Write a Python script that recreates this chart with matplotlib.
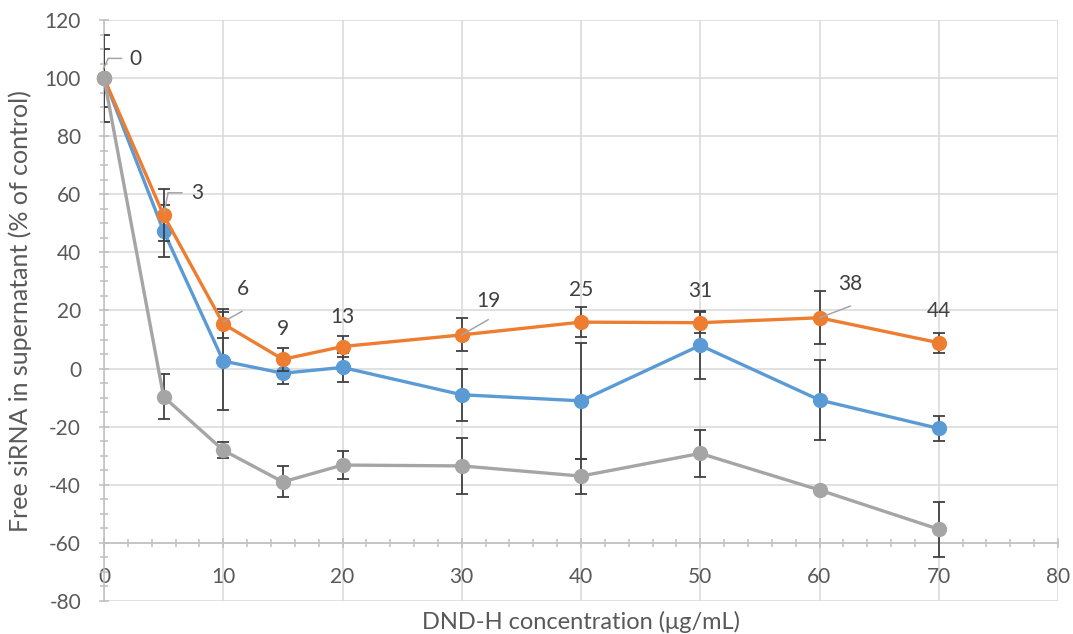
import matplotlib
matplotlib.use("Agg")
import matplotlib.pyplot as plt
from matplotlib.ticker import MultipleLocator
from matplotlib.transforms import offset_copy

plt.rcParams['font.family'] = ['Lato', 'DejaVu Sans']
plt.rcParams['axes.unicode_minus'] = False

conc = [0, 5, 10, 15, 20, 30, 40, 50, 60, 70]
blue_vals = [100, 47.3, 2.6, -1.6, 0.4, -9.0, -11.1, 8.0, -10.8, -20.6]
blue_err = [0, 9, 17, 3.7, 5, 9, 20, 11.7, 13.8, 4.3]
orange_vals = [100, 52.8, 15.4, 3.2, 7.6, 11.6, 16.0, 15.8, 17.5, 8.9]
orange_err = [10, 9, 5, 4, 3.7, 5.7, 5.2, 3.7, 9.2, 3.4]
gray_vals = [100, -9.7, -28.1, -39.0, -33.2, -33.5, -37.0, -29.2, -41.8, -55.3]
gray_err = [15, 7.8, 2.7, 5.3, 4.8, 9.5, 6, 8, 0, 9.4]
point_labels = ['0', '3', '6', '9', '13', '19', '25', '31', '38', '44']

# label offsets (pixels) and leader lines
label_offsets = [(31, 19), (34, 22), (20, 35), (0, 30), (0, 30), (27, 34), (0, 32), (0, 32), (31, 34), (0, 32)]
leaders = {
    0: [(-0.7, 9), (4.3, 19.7), (17.7, 19.7)],
    1: [(0.5, 3.4), (4.5, 22.4), (18.5, 22.4)],
    2: [(0, 2), (19, 12.7)],
    5: [(0, 0), (26.6, 15.3)],
    8: [(0, 0), (31, 11.7)],
}

fig = plt.figure(figsize=(10.73, 6.34), dpi=100)
ax = fig.add_axes([104/1073, 1 - 601/634, (1058 - 104)/1073, (601 - 20)/634])

axis_col = '#BFBFBF'
text_col = '#595959'
err_col = '#404040'

ax.set_xlim(0, 80)
ax.set_ylim(-80, 120)
ax.xaxis.set_major_locator(MultipleLocator(10))
ax.xaxis.set_minor_locator(MultipleLocator(2))
ax.yaxis.set_major_locator(MultipleLocator(20))
ax.yaxis.set_minor_locator(MultipleLocator(5))
ax.grid(True, which='major', color='#D9D9D9', lw=1.1)
ax.set_axisbelow(True)

for s in ['top', 'right']:
    ax.spines[s].set_visible(False)
ax.spines['bottom'].set_position(('data', -60))
ax.spines['bottom'].set_color(axis_col)
ax.spines['left'].set_color(axis_col)
ax.spines['bottom'].set_linewidth(1.1)
ax.spines['left'].set_linewidth(1.1)

ax.tick_params(which='both', direction='inout', color=axis_col, width=1.1)
ax.tick_params(which='major', length=7, labelsize=15, labelcolor=text_col)
ax.tick_params(which='minor', length=6)
ax.tick_params(axis='x', which='major', pad=14)
ax.tick_params(axis='y', which='major', pad=13)

series = [(blue_vals, blue_err, '#5B9BD5'), (orange_vals, orange_err, '#ED7D31'), (gray_vals, gray_err, '#A5A5A5')]
z = 3
for vals, err, col in series:
    ax.errorbar(conc, vals, yerr=err, fmt='none', ecolor=err_col, elinewidth=1.3, capsize=4, capthick=1.3, zorder=z)
    ax.plot(conc, vals, color=col, lw=2.4, marker='o', markersize=10, zorder=z + 0.5, clip_on=False)
    z += 1

for i, (x, y) in enumerate(zip(conc, orange_vals)):
    dx, dy = label_offsets[i]
    tr = offset_copy(ax.transData, fig=fig, x=dx, y=dy, units='dots')
    ax.text(x, y, point_labels[i], transform=tr, ha='center', va='center', fontsize=15, color='#404040', zorder=10)
    if i in leaders:
        pts = leaders[i]
        for (ax1, ay1), (ax2, ay2) in zip(pts[:-1], pts[1:]):
            ax.annotate('', xy=(x, y), xycoords=offset_copy(ax.transData, fig=fig, x=ax2, y=ay2, units='dots'),
                        xytext=(x, y), textcoords=offset_copy(ax.transData, fig=fig, x=ax1, y=ay1, units='dots'),
                        arrowprops=dict(arrowstyle='-', color='#A5A5A5', lw=1.1, shrinkA=0, shrinkB=0), zorder=9)

fig.text(581/1073, 1 - 622/634, 'DND-H concentration (\u03bcg/mL)', ha='center', va='center', fontsize=17, color=text_col)
fig.text(20/1073, 1 - 311/634, 'Free siRNA in supernatant (% of control)', rotation=90, ha='center', va='center', fontsize=18, color=text_col)

fig.savefig('out.png', dpi=100)
